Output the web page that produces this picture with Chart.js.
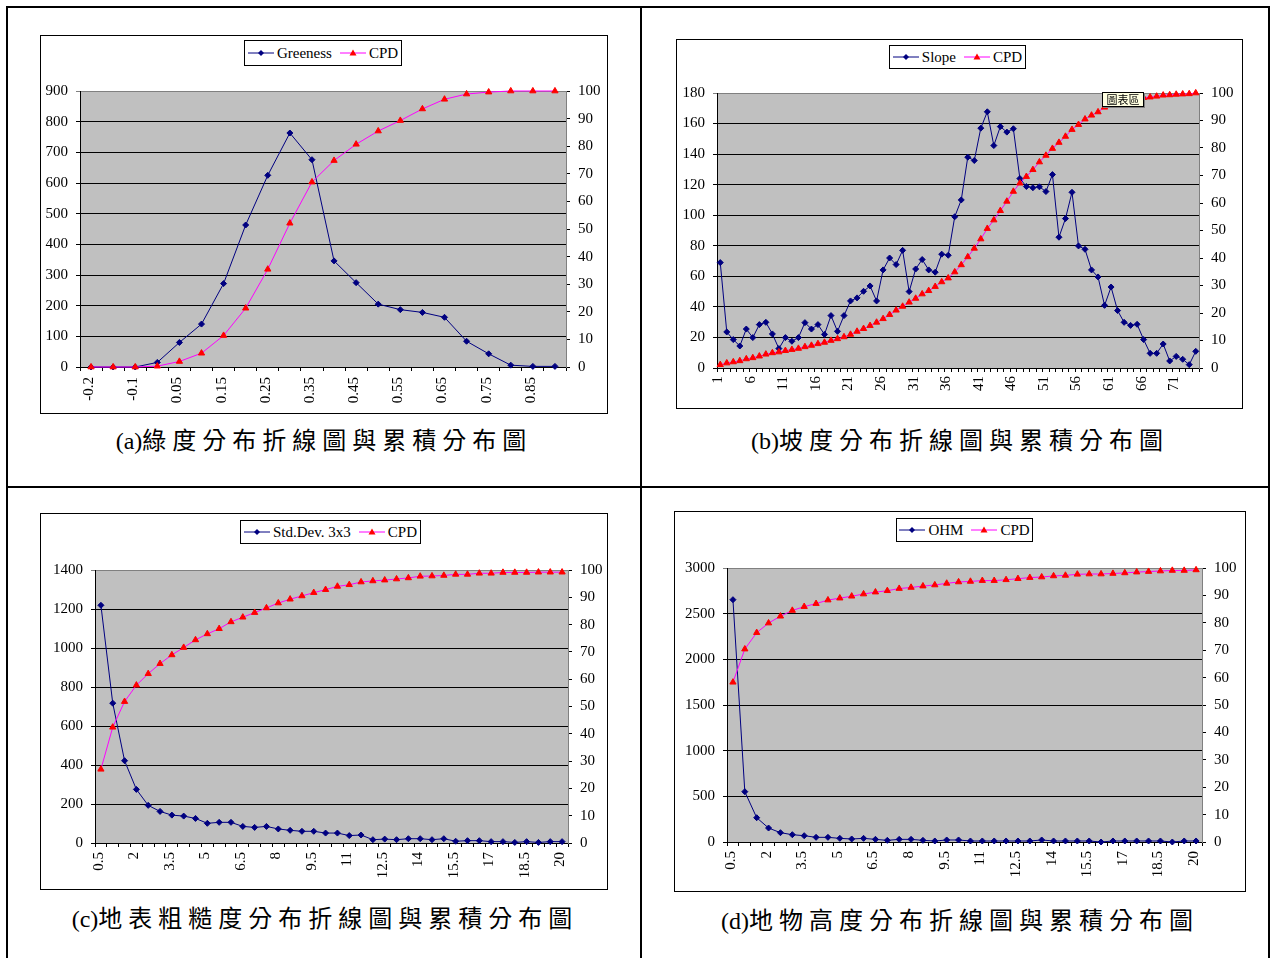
<!DOCTYPE html>
<html>
<head>
<meta charset="utf-8">
<script src="https://cdn.jsdelivr.net/npm/chart.js@4/dist/chart.umd.min.js"></script>
<style>
  body { margin:0; width:1275px; height:958px; position:relative; overflow:hidden; background:#fff;
         font-family:"Liberation Serif","Noto Sans CJK TC",serif; }
  .rule { position:absolute; background:#000; }
  .box { position:absolute; border:1px solid #000; background:#fff; box-sizing:border-box; }
  .box canvas { position:absolute; left:0; top:0; }
  .legend { position:absolute; border:1px solid #000; background:#fff; box-sizing:border-box;
            display:flex; align-items:center; justify-content:center; font-size:15px; white-space:nowrap; color:#000; }
  .legend svg { margin-right:3px; }
  .legend .gap { display:inline-block; width:8px; }
  .caption { position:absolute; height:30px; line-height:30px; font-size:24px; white-space:nowrap;
             transform:translateX(-50%); color:#000; }
  .caption .zh { font-family:"Noto Sans CJK TC",sans-serif; letter-spacing:6px; }
  .tip { position:absolute; background:#FFFFE1; border:1px solid #000; box-shadow:1px 1px 0 #808080;
         font-family:"Noto Sans CJK TC",sans-serif; font-size:11px; line-height:12px; text-align:center; }
</style>
</head>
<body>

<div class="rule" style="left:6px;top:6px;width:2px;height:952px"></div>
<div class="rule" style="left:6px;top:6px;width:1264px;height:2px"></div>
<div class="rule" style="left:1268px;top:6px;width:2px;height:952px"></div>
<div class="rule" style="left:640px;top:6px;width:2px;height:952px"></div>
<div class="rule" style="left:6px;top:486px;width:1264px;height:2px"></div>

<div id="root"></div>

<script>
// ---- (a) greenness ----
const greenCats = ['-0.2','-0.15','-0.1','0','0.05','0.1','0.15','0.2','0.25','0.3','0.35',
                   '0.4','0.45','0.5','0.55','0.6','0.65','0.7','0.75','0.8','0.85','0.9'];
const greeness  = [0,0,0,15,80,140,272,463,625,763,676,346,275,205,187,178,162,84,43,6,2,2];
const greenCpd  = [0,0,0,0.3,2,5,11.4,21.3,35.4,52.1,67,74.8,80.7,85.5,89.3,93.5,97,98.9,99.6,100,100,100];

// ---- (b) slope ----
const slopeCats = ['1','2','3','4','5','6','7','8','9','10','11','12','13','14','15','16','17','18','19','20',
                   '21','22','23','24','25','26','27','28','29','30','31','32','33','34','35','36','37','38','39','40',
                   '41','42','43','44','45','46','47','48','49','50','51','52','53','54','55','56','57','58','59','60',
                   '61','62','63','64','65','66','67','68','69','70','71','72','73','74'];
const slope = [69,23.6,18.6,14.4,25.5,19.9,28.4,29.9,22.3,12.7,
               19.9,17.5,19.9,29.7,25.5,28.4,22,34.3,24,34.3,
               43.9,45.9,50.2,53.7,43.9,64.2,72,67.7,77,50,
               64.8,71,64.2,62.7,74.5,73.8,99,110,138,135.8,
               157,167.7,145.6,158,154.4,156.6,124,118.8,118,118.6,
               115.5,126.6,85.6,97.8,115,79.9,77.7,64.2,59.6,41,
               53,37.6,29.9,27.9,28.6,18.6,9.6,9.6,15.7,4.6,
               7.6,5.7,2.2,10.9];
const slopeCpd = [1.2,1.8,2.2,2.6,3.3,3.7,4.3,5.0,5.5,5.8,
                  6.3,6.7,7.1,7.7,8.2,8.8,9.3,10.0,10.6,11.3,
                  12.2,13.3,14.3,15.4,16.6,17.9,19.4,21.0,22.4,23.9,
                  25.3,26.9,28.1,29.6,31.3,32.7,34.9,37.5,40.4,43.5,
                  46.9,50.7,53.8,57.2,60.6,64.2,67.2,69.6,72.1,74.9,
                  77.3,79.8,82.0,84.2,86.7,88.5,90.5,91.9,93.1,94.8,
                  95.5,96.2,96.8,97.3,97.9,98.3,98.5,98.8,99.2,99.3,
                  99.5,99.6,99.7,100];

// ---- (c) surface roughness, (d) object height: shared bins ----
const binCats = ['0.5','1','1.5','2','2.5','3','3.5','4','4.5','5','5.5','6','6.5','7','7.5','8','8.5','9','9.5','10',
                 '10.5','11','11.5','12','12.5','13','13.5','14','14.5','15','15.5','16','16.5','17','17.5','18','18.5','19','19.5','20'];
const stdDev = [1219,717,422,275,193,162,143,138,126,101,
                106,106,85,80,85,72,65,60,60,51,
                51,38,41,17,20,17,22,22,17,22,
                9,12,12,7,7,3,7,3,7,7];
const stdCpd = [27,42.4,51.8,57.8,62,65.7,68.9,71.6,74.4,76.6,
                78.5,81,82.7,84.4,86.1,87.9,89.3,90.5,91.7,92.8,
                94,94.6,95.6,96,96.3,96.7,97.1,97.7,97.8,98,
                98.4,98.4,98.8,98.8,99.1,99.1,99.1,99.2,99.2,99.2];
const ohm = [2653,551,266,153,102,80,69,51,51,40,
             33,40,29,18,29,29,18,11,22,22,
             11,11,11,11,11,11,22,11,11,11,
             11,0,11,11,11,11,11,0,11,11];
const ohmCpd = [58.3,70.4,76.4,79.9,82.4,84.5,85.9,87,88.3,89,
                89.7,90.5,91.2,91.7,92.5,92.9,93.4,93.8,94.4,94.9,
                95.1,95.4,95.4,95.7,96.1,96.5,96.7,97.1,97.3,97.7,
                97.8,97.8,98,98.2,98.5,98.7,98.9,99.1,99.1,99.3];

const NAVY = '#000080', MAGENTA = '#FF00FF', RED = '#FF0000', PLOT_BG = '#C0C0C0', FRAME = '#808080';
const TICK_FONT = { family: '"Liberation Serif", serif', size: 15 };

// grey plot-area fill, as in a spreadsheet chart
const plotFill = {
  id: 'plotFill',
  beforeDraw(chart) {
    const { ctx, chartArea: a } = chart;
    ctx.save();
    ctx.fillStyle = PLOT_BG;
    ctx.fillRect(a.left, a.top, a.right - a.left, a.bottom - a.top);
    ctx.restore();
  }
};

const root = document.getElementById('root');

function legendIcon(kind) {
  const marker = kind === 'diamond'
    ? `<path d="M13 2 L16 5 L13 8 L10 5 Z" fill="${NAVY}"/>`
    : `<path d="M13 1.5 L16.5 7.5 L9.5 7.5 Z" fill="${RED}"/>`;
  const col = kind === 'diamond' ? NAVY : MAGENTA;
  return `<svg width="26" height="10"><line x1="0" y1="5" x2="26" y2="5" stroke="${col}" stroke-width="1"/>${marker}</svg>`;
}

function makeChart(cfg) {
  const { box, plot, legend, caption } = cfg;
  const div = document.createElement('div');
  div.className = 'box';
  Object.assign(div.style, { left: box.x + 'px', top: box.y + 'px', width: box.w + 'px', height: box.h + 'px' });
  const cw = box.w - 2, ch = box.h - 2;
  const canvas = document.createElement('canvas');
  canvas.width = cw; canvas.height = ch;
  canvas.style.width = cw + 'px'; canvas.style.height = ch + 'px';
  div.appendChild(canvas);
  root.appendChild(div);

  const leftW = plot.l - (box.x + 1);
  const rightW = (box.x + box.w - 1) - plot.r;
  const topPad = plot.t - (box.y + 1);
  const bottomH = (box.y + box.h - 1) - plot.b;

  new Chart(canvas.getContext('2d'), {
    type: 'line',
    data: {
      labels: cfg.cats,
      datasets: [
        { label: 'CPD', data: cfg.cpd, yAxisID: 'y1', order: 0,
          borderColor: MAGENTA, borderWidth: 1, tension: 0, clip: false,
          pointStyle: 'triangle', pointRadius: 3.6, pointBorderWidth: 1,
          pointBackgroundColor: RED, pointBorderColor: RED },
        { label: cfg.name, data: cfg.values, yAxisID: 'y', order: 1,
          borderColor: NAVY, borderWidth: 1, tension: 0, clip: false,
          pointStyle: 'rectRot', pointRadius: 3, pointBorderWidth: 1,
          pointBackgroundColor: NAVY, pointBorderColor: NAVY }
      ]
    },
    options: {
      responsive: false, animation: false, devicePixelRatio: 1,
      layout: { padding: { top: topPad, left: 0, right: 0, bottom: 0 } },
      plugins: { legend: { display: false }, tooltip: { enabled: false } },
      events: [],
      scales: {
        x: {
          type: 'category', offset: true,
          grid: { display: true, drawOnChartArea: false, drawTicks: true, tickLength: 4, offset: true, color: '#000' },
          border: { display: true, color: '#000', width: 1 },
          ticks: {
            autoSkip: false, minRotation: 90, maxRotation: 90, padding: cfg.xPad, labelOffset: -2,
            color: '#000', font: TICK_FONT,
            callback(v, i) { return i % cfg.every === 0 ? this.getLabelForValue(v) : ''; }
          },
          afterFit(s) { s.height = bottomH; }
        },
        y: {
          position: 'left', min: 0, max: cfg.max,
          ticks: { stepSize: cfg.step, padding: 8, color: '#000', font: TICK_FONT,
                   callback: v => String(v) },
          grid: { tickLength: 4, lineWidth: 1,
                  color: c => (c.tick && c.tick.value === cfg.max) ? FRAME : '#000' },
          border: { display: true, color: '#000', width: 1 },
          afterFit(s) { s.width = leftW; }
        },
        y1: {
          position: 'right', min: 0, max: 100,
          ticks: { stepSize: 10, padding: 8, color: '#000', font: TICK_FONT,
                   callback: v => String(v) },
          grid: { drawOnChartArea: false, tickLength: 4, color: '#000' },
          border: { display: true, color: FRAME, width: 1 },
          afterFit(s) { s.width = rightW; }
        }
      }
    },
    plugins: [plotFill]
  });

  const lg = document.createElement('div');
  lg.className = 'legend';
  Object.assign(lg.style, { left: legend.x + 'px', top: legend.y + 'px', width: legend.w + 'px', height: legend.h + 'px' });
  lg.innerHTML = `${legendIcon('diamond')}<span>${cfg.name}</span><span class="gap"></span>${legendIcon('triangle')}<span>CPD</span>`;
  root.appendChild(lg);

  const cap = document.createElement('div');
  cap.className = 'caption';
  Object.assign(cap.style, { left: caption.cx + 'px', top: caption.y + 'px' });
  cap.innerHTML = `<span>${caption.tag}</span><span class="zh">${caption.text}</span>`;
  root.appendChild(cap);
}

makeChart({
  name: 'Greeness', cats: greenCats, values: greeness, cpd: greenCpd, max: 900, step: 100, every: 2, xPad: 6,
  box: { x: 40, y: 35, w: 568, h: 379 }, plot: { l: 80, t: 91, r: 566, b: 367 },
  legend: { x: 244, y: 40, w: 158, h: 26 },
  caption: { cx: 324, y: 424, tag: '(a)', text: '綠度分布折線圖與累積分布圖' }
});
makeChart({
  name: 'Slope', cats: slopeCats, values: slope, cpd: slopeCpd, max: 180, step: 20, every: 5, xPad: 4,
  box: { x: 676, y: 39, w: 567, h: 370 }, plot: { l: 717, t: 93, r: 1199, b: 368 },
  legend: { x: 889, y: 45, w: 137, h: 24 },
  caption: { cx: 960, y: 424, tag: '(b)', text: '坡度分布折線圖與累積分布圖' }
});
makeChart({
  name: 'Std.Dev.&nbsp;3x3', cats: binCats, values: stdDev, cpd: stdCpd, max: 1400, step: 200, every: 3, xPad: 5,
  box: { x: 40, y: 513, w: 568, h: 377 }, plot: { l: 95, t: 570, r: 568, b: 843 },
  legend: { x: 240, y: 520, w: 181, h: 24 },
  caption: { cx: 325, y: 902, tag: '(c)', text: '地表粗糙度分布折線圖與累積分布圖' }
});
makeChart({
  name: 'OHM', cats: binCats, values: ohm, cpd: ohmCpd, max: 3000, step: 500, every: 3, xPad: 5,
  box: { x: 674, y: 511, w: 572, h: 381 }, plot: { l: 727, t: 568, r: 1202, b: 842 },
  legend: { x: 896, y: 518, w: 137, h: 24 },
  caption: { cx: 960, y: 904, tag: '(d)', text: '地物高度分布折線圖與累積分布圖' }
});

// chart-area hover label shown over panel (b)
const tip = document.createElement('div');
tip.className = 'tip';
tip.textContent = '圖表區';
Object.assign(tip.style, { left: '1102px', top: '92px', width: '40px', height: '13px' });
root.appendChild(tip);
</script>
</body>
</html>
